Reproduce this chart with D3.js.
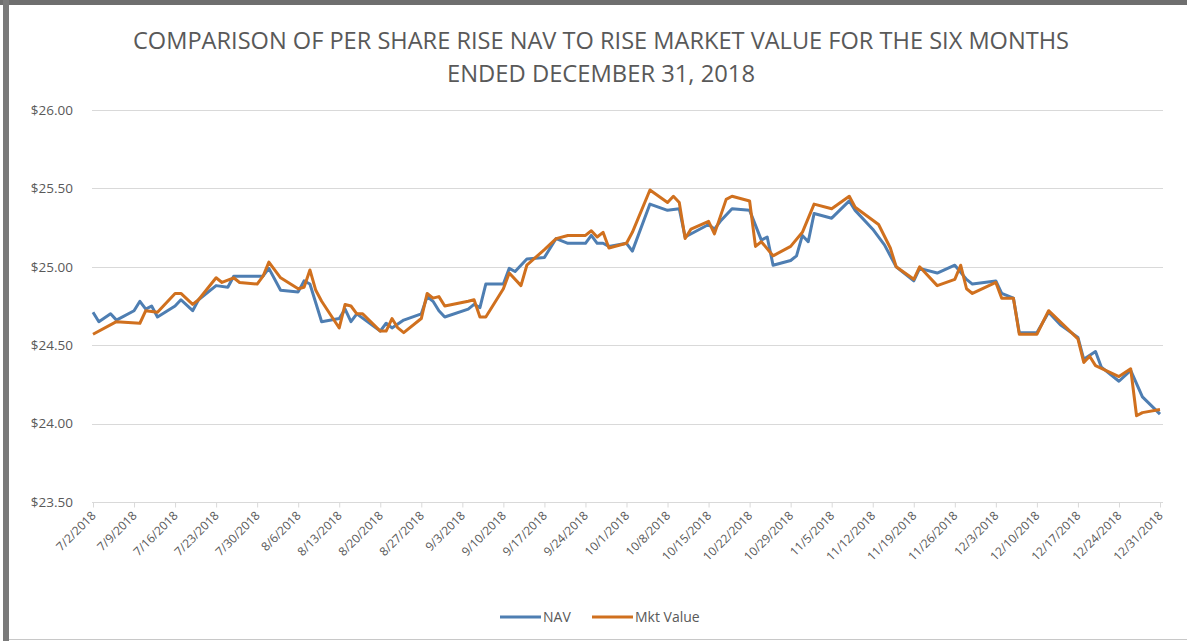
<!DOCTYPE html>
<html>
<head>
<meta charset="utf-8">
<script src="https://cdn.jsdelivr.net/npm/d3@7"></script>
<style>
  body { margin: 0; background: #fff; }
  svg { display: block; font-family: "Open Sans", sans-serif; }
</style>
</head>
<body>
<svg id="chart" width="1187" height="641"></svg>
<script>
// values (trading days, month/day of 2018)
var navDates = ["7/2","7/3","7/5","7/6","7/9","7/10","7/11","7/12","7/13","7/16","7/17","7/19","7/20","7/23","7/25","7/26","7/31",
  "8/1","8/3","8/6","8/7","8/8","8/10","8/13","8/14","8/15","8/16","8/20","8/21","8/22","8/24","8/27","8/28","8/29","8/30","8/31",
  "9/4","9/5","9/6","9/7","9/10","9/11","9/12","9/14","9/17","9/19","9/21","9/24","9/25","9/26","9/27","9/28",
  "10/1","10/2","10/5","10/8","10/10","10/11","10/15","10/16","10/17","10/19","10/22","10/24","10/25","10/26","10/29","10/30","10/31",
  "11/1","11/2","11/5","11/8","11/9","11/12","11/14","11/16","11/19","11/20","11/23","11/26","11/28","11/29",
  "12/3","12/4","12/6","12/7","12/10","12/12","12/14","12/17","12/18","12/20","12/21","12/24","12/26","12/28","12/31"];
var navValues = [24.71,24.65,24.70,24.66,24.72,24.78,24.73,24.75,24.68,24.75,24.79,24.72,24.79,24.88,24.87,24.94,24.94,
  24.99,24.85,24.84,24.91,24.89,24.65,24.67,24.73,24.65,24.70,24.59,24.64,24.61,24.66,24.70,24.81,24.78,24.72,24.68,
  24.73,24.76,24.74,24.89,24.89,24.99,24.97,25.05,25.06,25.18,25.15,25.15,25.20,25.15,25.15,25.13,
  25.15,25.10,25.40,25.36,25.37,25.19,25.27,25.24,25.29,25.37,25.36,25.17,25.19,25.01,25.04,25.07,25.20,
  25.16,25.34,25.31,25.42,25.36,25.24,25.14,25.00,24.91,24.99,24.96,25.01,24.92,24.89,
  24.91,24.83,24.80,24.58,24.58,24.71,24.63,24.55,24.41,24.46,24.36,24.27,24.34,24.17,24.06];

var mktDates = ["7/2","7/6","7/10","7/11","7/13","7/16","7/17","7/19","7/20","7/23","7/24","7/26","7/27","7/30","7/31",
  "8/1","8/3","8/6","8/7","8/8","8/9","8/10","8/13","8/14","8/15","8/16","8/17","8/20","8/21","8/22","8/23","8/24","8/27","8/28","8/29","8/30","8/31",
  "9/4","9/5","9/6","9/7","9/10","9/11","9/13","9/14","9/17","9/19","9/21","9/24","9/25","9/26","9/27","9/28",
  "10/1","10/2","10/5","10/8","10/9","10/10","10/11","10/12","10/15","10/16","10/18","10/19","10/22","10/23","10/24","10/26","10/29","10/31",
  "11/2","11/5","11/8","11/9","11/13","11/15","11/16","11/19","11/20","11/23","11/26","11/27","11/28","11/29",
  "12/3","12/4","12/6","12/7","12/10","12/12","12/17","12/18","12/19","12/20","12/24","12/26","12/27","12/28","12/31"];
var mktValues = [24.57,24.65,24.64,24.72,24.71,24.83,24.83,24.76,24.79,24.93,24.90,24.93,24.90,24.89,24.94,
  25.03,24.93,24.86,24.87,24.98,24.85,24.78,24.61,24.76,24.75,24.70,24.70,24.59,24.59,24.67,24.61,24.58,24.67,24.83,24.80,24.81,24.75,
  24.78,24.79,24.68,24.68,24.86,24.96,24.88,25.01,25.11,25.18,25.20,25.20,25.23,25.19,25.22,25.12,
  25.15,25.22,25.49,25.41,25.45,25.41,25.18,25.24,25.29,25.21,25.43,25.45,25.42,25.13,25.16,25.07,25.13,25.22,
  25.40,25.37,25.45,25.38,25.27,25.12,25.00,24.92,25.00,24.88,24.92,25.01,24.86,24.83,
  24.90,24.80,24.80,24.57,24.57,24.72,24.54,24.39,24.43,24.37,24.30,24.35,24.05,24.07,24.09];

var xTickLabels = ["7/2","7/9","7/16","7/23","7/30","8/6","8/13","8/20","8/27","9/3","9/10","9/17","9/24",
  "10/1","10/8","10/15","10/22","10/29","11/5","11/12","11/19","11/26","12/3","12/10","12/17","12/24","12/31"];
var yTicks = [23.5, 24, 24.5, 25, 25.5, 26];
var seriesNames = ["NAV", "Mkt Value"];
var colors = ["#4e7eb2", "#d0701e"];

var parse = function(s) { return d3.timeParse("%m/%d/%Y")(s + "/2018"); };
var svg = d3.select("#chart");

// frame edges
svg.append("rect").attr("x", 0).attr("y", 0).attr("width", 1187).attr("height", 5).attr("fill", "#6f6f6f");
svg.append("rect").attr("x", 3).attr("y", 0).attr("width", 6).attr("height", 641).attr("fill", "#7a7a7a");
svg.append("line").attr("x1", 9).attr("x2", 1187).attr("y1", 639.5).attr("y2", 639.5).attr("stroke", "#c8c8c8");

var x = d3.scaleTime()
    .domain([parse("7/2"), parse("12/31")])
    .range([93, 1160]);
var y = d3.scaleLinear()
    .domain([23.5, 26])
    .range([502, 110]);

// title
var title = svg.append("g")
    .attr("fill", "#595959")
    .attr("font-size", 24)
    .attr("text-anchor", "middle");
title.append("text").attr("x", 601).attr("y", 49)
    .attr("textLength", 936).attr("lengthAdjust", "spacingAndGlyphs")
    .text("COMPARISON OF PER SHARE RISE NAV TO RISE MARKET VALUE FOR THE SIX MONTHS");
title.append("text").attr("x", 601).attr("y", 82)
    .attr("textLength", 308).attr("lengthAdjust", "spacingAndGlyphs")
    .text("ENDED DECEMBER 31, 2018");

// gridlines
svg.append("g").selectAll("line")
    .data(yTicks.slice(1))
    .enter().append("line")
    .attr("x1", 92).attr("x2", 1163)
    .attr("y1", function(d) { return Math.round(y(d)) + 0.5; })
    .attr("y2", function(d) { return Math.round(y(d)) + 0.5; })
    .attr("stroke", "#d9d9d9");

// y axis labels
var yAxis = svg.append("g")
    .attr("transform", "translate(73,0)")
    .call(d3.axisLeft(y).tickValues(yTicks).tickSize(0).tickFormat(d3.format("$.2f")));
yAxis.select(".domain").remove();
yAxis.selectAll("text").attr("fill", "#595959").attr("font-size", 13.5).attr("font-family", "Open Sans, sans-serif").attr("x", 0);

// x axis
var xAxis = svg.append("g")
    .attr("transform", "translate(0,502.5)")
    .call(d3.axisBottom(x)
        .tickValues(xTickLabels.map(parse))
        .tickSizeOuter(0)
        .tickSize(5)
        .tickFormat(d3.timeFormat("%-m/%-d/%Y")));
xAxis.select(".domain").attr("stroke", "#d9d9d9").attr("d", "M92,0H1163");
xAxis.selectAll(".tick line").attr("stroke", "#d9d9d9");
xAxis.selectAll("text")
    .attr("fill", "#595959")
    .attr("font-size", 12)
    .attr("font-family", "Open Sans, sans-serif")
    .attr("text-anchor", "end")
    .attr("dy", null)
    .attr("y", 0)
    .attr("transform", "translate(3,14) rotate(-45)");

// lines
var line = d3.line()
    .x(function(d) { return x(d.date); })
    .y(function(d) { return y(d.value); });

var navData = navDates.map(function(d, i) { return {date: parse(d), value: navValues[i]}; });
var mktData = mktDates.map(function(d, i) { return {date: parse(d), value: mktValues[i]}; });

[navData, mktData].forEach(function(data, i) {
    svg.append("path")
        .datum(data)
        .attr("fill", "none")
        .attr("stroke", colors[i])
        .attr("stroke-width", 3)
        .attr("stroke-linejoin", "round")
        .attr("d", line);
});

// legend
var legendX = [500, 592];
var legend = svg.append("g")
    .attr("font-size", 14)
    .attr("fill", "#595959")
    .selectAll("g")
    .data(seriesNames)
    .enter().append("g")
    .attr("transform", function(d, i) { return "translate(" + legendX[i] + ",617)"; });
legend.append("line")
    .attr("x1", 0).attr("x2", 41)
    .attr("stroke", function(d, i) { return colors[i]; })
    .attr("stroke-width", 3);
legend.append("text")
    .attr("x", 43)
    .attr("dy", "0.35em")
    .text(function(d) { return d; });
</script>
</body>
</html>
